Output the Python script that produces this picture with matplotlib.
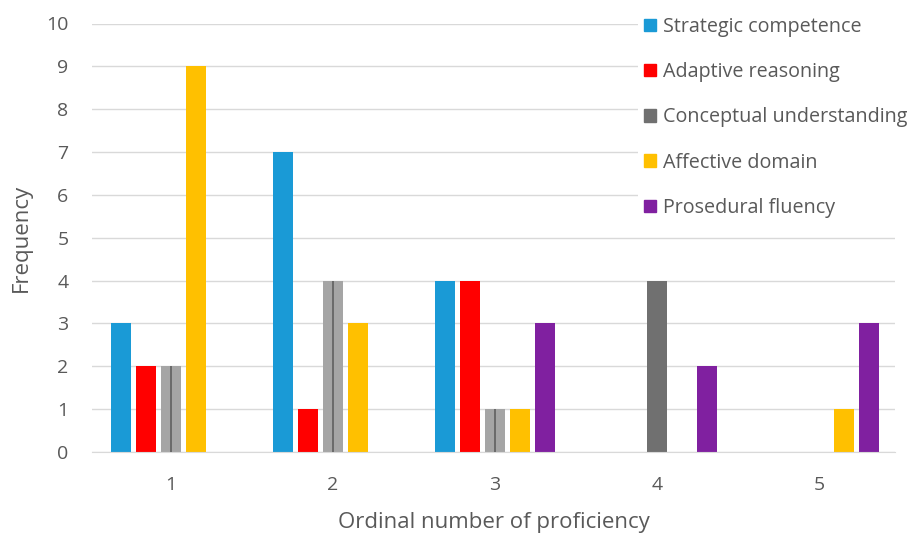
import matplotlib.pyplot as plt
import numpy as np

plt.rcParams['font.family'] = ['Open Sans', 'DejaVu Sans']

categories = ['1', '2', '3', '4', '5']
series_names = ['Strategic competence', 'Adaptive reasoning', 'Conceptual understanding',
                'Affective domain', 'Prosedural fluency']
strategic = [3, 7, 4, 0, 0]
adaptive = [2, 1, 4, 0, 0]
conceptual = [2, 4, 1, 4, 0]
affective = [9, 3, 1, 0, 1]
prosedural = [0, 0, 3, 2, 3]

series = [strategic, adaptive, conceptual, affective, prosedural]
colors = ['#1A9AD6', '#FF0000', '#707070', '#FFC000', '#8020A0']
# the conceptual bars in groups 1-3 are lighter in the source
conceptual_colors = ['#A5A5A5', '#A5A5A5', '#A5A5A5', '#707070', '#707070']

fig = plt.figure(figsize=(9.17, 5.33), dpi=100)
ax = fig.add_axes([92 / 917, 81 / 533, 803 / 917, 428.5 / 533])

x = np.arange(1, len(categories) + 1)
step = 0.155
width = 0.125
for i, (name, vals) in enumerate(zip(series_names, series)):
    c = conceptual_colors if i == 2 else colors[i]
    bars = ax.bar(x + (i - 2) * step, vals, width, color=c, label=name, zorder=2)
    if i == 2:
        for b, col in zip(bars, conceptual_colors):
            if col == '#A5A5A5' and b.get_height() > 0:
                ax.vlines(b.get_x() + b.get_width() / 2, 0, b.get_height(),
                          color='#606060', lw=1.2, zorder=3)

ax.set_xlim(0.512, 5.47)
ax.set_ylim(0, 10)
ax.set_yticks(range(0, 11))
ax.set_xticks(x)
ax.set_xticklabels(categories)
ax.yaxis.grid(True, color='#D9D9D9', lw=1)
ax.set_axisbelow(True)
for s in ['top', 'right', 'left']:
    ax.spines[s].set_visible(False)
ax.spines['bottom'].set_color('#D9D9D9')
ax.tick_params(length=0, labelsize=14, colors='#595959')
ax.tick_params(axis='y', pad=17)
ax.tick_params(axis='x', pad=17)

ax.set_xlabel('Ordinal number of proficiency', fontsize=16, color='#595959', labelpad=13)
ax.set_ylabel('Frequency', fontsize=16, color='#595959', labelpad=10)

handles = [plt.Rectangle((0, 0), 1, 1, color=c) for c in colors]
leg = fig.legend(handles, series_names, loc='upper left',
                 bbox_to_anchor=(628 / 917, 1 - 1 / 533), fontsize=14.2,
                 frameon=True, facecolor='white', edgecolor='none', framealpha=1,
                 handlelength=0.6, handleheight=0.6, handletextpad=0.4,
                 labelspacing=1.28, borderpad=0.3)
for t in leg.get_texts():
    t.set_color('#595959')

fig.savefig('out.png', dpi=100)
